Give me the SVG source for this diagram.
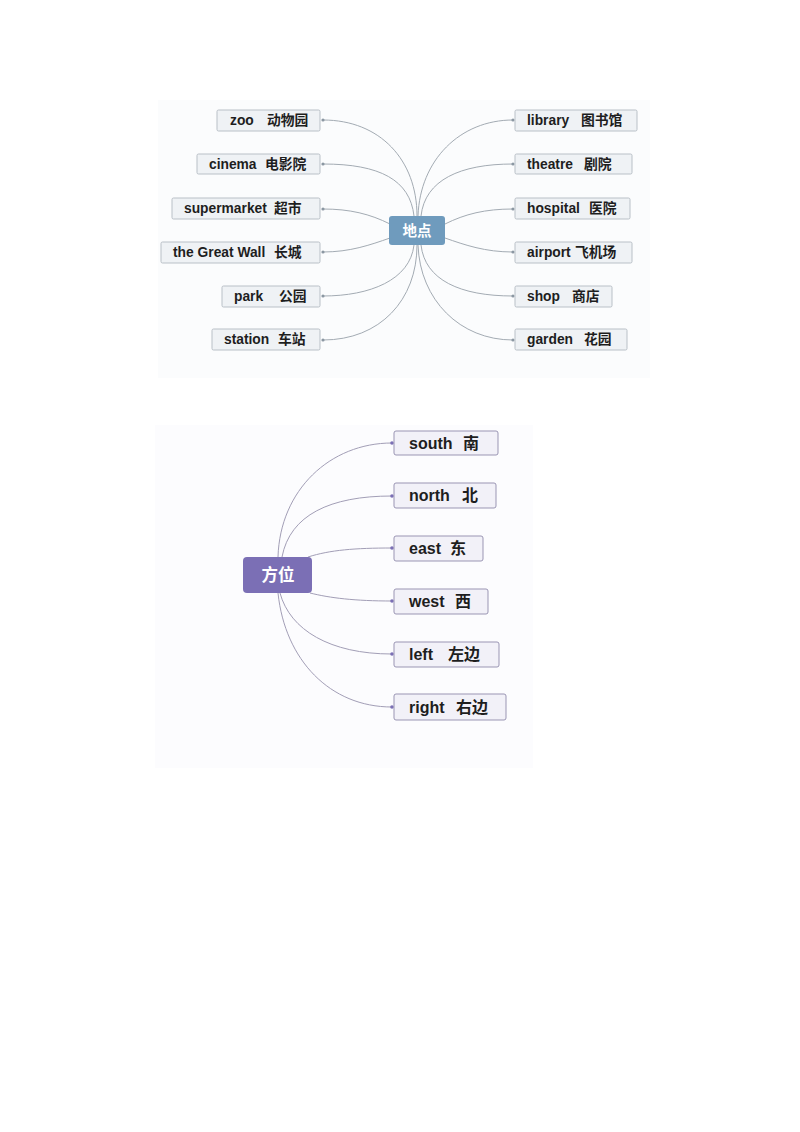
<svg xmlns="http://www.w3.org/2000/svg" width="800" height="1132" viewBox="0 0 800 1132">
<style>
text{font-family:"Liberation Sans","Noto Sans CJK SC",sans-serif;font-weight:bold;fill:#1e1e1e}
.t1{font-size:13.8px}
.t2{font-size:16px}
.b1{fill:#eff2f5;stroke:#b9c0c7;stroke-width:1}
.b2{fill:#f2f1f8;stroke:#9a95b3;stroke-width:1}
.c1{fill:none;stroke:#a3abb3;stroke-width:1}
.c2{fill:none;stroke:#a29eb6;stroke-width:1}
.d1{fill:#8b97a2}
.d2{fill:#7b6fb5}
</style>
<rect width="800" height="1132" fill="#ffffff"/>
<rect x="158" y="100" width="492" height="278" fill="#fbfcfd"/>
<rect x="155" y="425" width="378" height="343" fill="#fcfcfe"/>

<g id="connectors1">
<path class="c1" d="M417,216 C417,160 380,120 323,120"/>
<path class="c1" d="M414,216 C410,180 380,164 323,164"/>
<path class="c1" d="M390,224 C370,214 350,209 323,209"/>
<path class="c1" d="M390,238 C370,245 350,252 323,252"/>
<path class="c1" d="M414,245 C410,280 370,296 323,296"/>
<path class="c1" d="M417,245 C417,300 380,340 323,340"/>
<path class="c1" d="M418,216 C420,160 460,120 513,120"/>
<path class="c1" d="M421,216 C425,180 460,164 513,164"/>
<path class="c1" d="M445,224 C465,214 485,209 513,209"/>
<path class="c1" d="M445,238 C465,245 485,252 513,252"/>
<path class="c1" d="M421,245 C425,280 460,296 513,296"/>
<path class="c1" d="M418,245 C420,300 460,340 513,340"/>
<circle class="d1" cx="323" cy="120" r="1.6"/>
<circle class="d1" cx="323" cy="164" r="1.6"/>
<circle class="d1" cx="323" cy="209" r="1.6"/>
<circle class="d1" cx="323" cy="252" r="1.6"/>
<circle class="d1" cx="323" cy="296" r="1.6"/>
<circle class="d1" cx="323" cy="340" r="1.6"/>
<circle class="d1" cx="513" cy="120" r="1.6"/>
<circle class="d1" cx="513" cy="164" r="1.6"/>
<circle class="d1" cx="513" cy="209" r="1.6"/>
<circle class="d1" cx="513" cy="252" r="1.6"/>
<circle class="d1" cx="513" cy="296" r="1.6"/>
<circle class="d1" cx="513" cy="340" r="1.6"/>
</g>

<g id="center1">
<rect x="389" y="216" width="56" height="29" rx="3" fill="#6f9bbd"/>
<text x="417" y="236" font-size="14.5" text-anchor="middle" style="fill:#ffffff">地点</text>
</g>

<g id="n-zoo"><rect class="b1" x="217" y="110" width="103" height="21" rx="1.5"/><text class="t1" x="230" y="125">zoo<tspan x="267">动物园</tspan></text></g>
<g id="n-cinema"><rect class="b1" x="197" y="154" width="123" height="20" rx="1.5"/><text class="t1" x="209" y="169">cinema<tspan x="265">电影院</tspan></text></g>
<g id="n-supermarket"><rect class="b1" x="172" y="198" width="148" height="21" rx="1.5"/><text class="t1" x="184" y="213">supermarket<tspan x="274">超市</tspan></text></g>
<g id="n-greatwall"><rect class="b1" x="161" y="242" width="159" height="21" rx="1.5"/><text class="t1" x="173" y="257">the Great Wall<tspan x="274">长城</tspan></text></g>
<g id="n-park"><rect class="b1" x="222" y="286" width="98" height="21" rx="1.5"/><text class="t1" x="234" y="301">park<tspan x="279">公园</tspan></text></g>
<g id="n-station"><rect class="b1" x="212" y="329" width="108" height="21" rx="1.5"/><text class="t1" x="224" y="344">station<tspan x="278">车站</tspan></text></g>

<g id="n-library"><rect class="b1" x="515" y="110" width="122" height="21" rx="1.5"/><text class="t1" x="527" y="125">library<tspan x="581">图书馆</tspan></text></g>
<g id="n-theatre"><rect class="b1" x="515" y="154" width="117" height="20" rx="1.5"/><text class="t1" x="527" y="169">theatre<tspan x="584">剧院</tspan></text></g>
<g id="n-hospital"><rect class="b1" x="515" y="198" width="115" height="21" rx="1.5"/><text class="t1" x="527" y="213">hospital<tspan x="589">医院</tspan></text></g>
<g id="n-airport"><rect class="b1" x="515" y="242" width="117" height="21" rx="1.5"/><text class="t1" x="527" y="257">airport<tspan x="575">飞机场</tspan></text></g>
<g id="n-shop"><rect class="b1" x="515" y="286" width="97" height="21" rx="1.5"/><text class="t1" x="527" y="301">shop<tspan x="572">商店</tspan></text></g>
<g id="n-garden"><rect class="b1" x="515" y="329" width="112" height="21" rx="1.5"/><text class="t1" x="527" y="344">garden<tspan x="584">花园</tspan></text></g>

<g id="connectors2">
<path class="c2" d="M278,557 C280,490 330,443 392,443"/>
<path class="c2" d="M282,557 C290,515 330,496 392,496"/>
<path class="c2" d="M308,557 C330,550 355,548 392,548"/>
<path class="c2" d="M310,593 C330,598 355,601 392,601"/>
<path class="c2" d="M280,593 C290,630 330,654 392,654"/>
<path class="c2" d="M278,593 C285,660 330,707 392,707"/>
<circle class="d2" cx="392" cy="443" r="1.8"/>
<circle class="d2" cx="392" cy="496" r="1.8"/>
<circle class="d2" cx="392" cy="548" r="1.8"/>
<circle class="d2" cx="392" cy="601" r="1.8"/>
<circle class="d2" cx="392" cy="654" r="1.8"/>
<circle class="d2" cx="392" cy="707" r="1.8"/>
</g>

<g id="center2">
<rect x="243" y="557" width="69" height="36" rx="4" fill="#7b6fb5"/>
<text x="278" y="581" font-size="16.5" text-anchor="middle" style="fill:#ffffff">方位</text>
</g>

<g id="n-south"><rect class="b2" x="394" y="431" width="104" height="24" rx="2"/><text class="t2" x="409" y="449">south<tspan x="463">南</tspan></text></g>
<g id="n-north"><rect class="b2" x="394" y="483" width="102" height="25" rx="2"/><text class="t2" x="409" y="501">north<tspan x="462">北</tspan></text></g>
<g id="n-east"><rect class="b2" x="394" y="536" width="89" height="25" rx="2"/><text class="t2" x="409" y="554">east<tspan x="450">东</tspan></text></g>
<g id="n-west"><rect class="b2" x="394" y="589" width="94" height="25" rx="2"/><text class="t2" x="409" y="607">west<tspan x="455">西</tspan></text></g>
<g id="n-left"><rect class="b2" x="394" y="642" width="105" height="25" rx="2"/><text class="t2" x="409" y="660">left<tspan x="448">左边</tspan></text></g>
<g id="n-right"><rect class="b2" x="394" y="694" width="112" height="26" rx="2"/><text class="t2" x="409" y="713">right<tspan x="456">右边</tspan></text></g>
</svg>
